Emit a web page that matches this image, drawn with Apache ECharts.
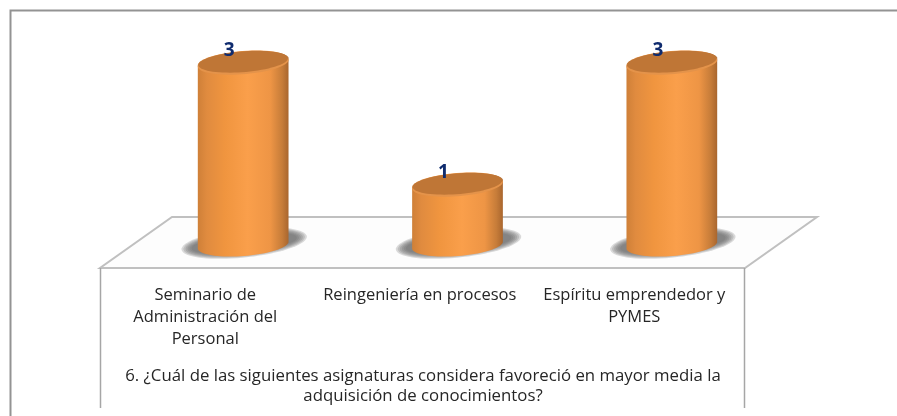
<!DOCTYPE html>
<html><head><meta charset="utf-8">
<style>html,body{margin:0;padding:0;background:#fff}#c{width:897px;height:416px}</style>
<script src="https://cdn.jsdelivr.net/npm/echarts@6/dist/echarts.min.js"></script>
</head><body><div id="c"></div>
<script>
const categories = ['Seminario de\nAdministración del\nPersonal', 'Reingeniería en procesos', 'Espíritu emprendedor y\nPYMES'];
const values = [3, 1, 3];
const titleText = '6. ¿Cuál de las siguientes asignaturas considera favoreció en mayor media la\nadquisición de conocimientos?';
const FONT = '"Open Sans", Lato, sans-serif';

function ellipsePts(cx, cy, rx, ry, a0, a1, n, deg) {
  const th = (deg === undefined ? -4.5 : deg) * Math.PI / 180, pts = [];
  for (let i = 0; i <= n; i++) {
    const t = a0 + (a1 - a0) * i / n;
    const ex = rx * Math.cos(t), ey = ry * Math.sin(t);
    pts.push([cx + ex * Math.cos(th) - ey * Math.sin(th), cy + ex * Math.sin(th) + ey * Math.cos(th)]);
  }
  return pts;
}
const bodyFill = {
  type: 'linear', x: 0, y: 0, x2: 1, y2: 0,
  colorStops: [
    { offset: 0, color: '#cf8038' }, { offset: 0.1, color: '#e08b3f' }, { offset: 0.3, color: '#f0953f' },
    { offset: 0.55, color: '#fa9f4b' }, { offset: 0.8, color: '#ee9545' }, { offset: 0.93, color: '#c67c39' },
    { offset: 1, color: '#a9662e' }
  ]
};
function softShadow(cx, yb) {
  const layers = [];
  for (let k = 0; k < 6; k++) {
    layers.push({ type: 'polygon', z2: 1,
      shape: { points: ellipsePts(cx + 1, yb - 2, 63 - k * 2, 14.5 - k, 0, 2 * Math.PI, 70, -6) },
      style: { fill: 'rgba(105,105,105,0.24)' } });
  }
  return layers;
}
function renderCylinder(params, api) {
  const top = api.coord([api.value(0), api.value(1)]);
  const base = api.coord([api.value(0), 0]);
  const rx = 45.5, ry = 11;
  const cx = top[0], yt = top[1], yb = base[1];
  const body = ellipsePts(cx, yt, rx, ry, Math.PI, 2 * Math.PI, 30)
    .concat(ellipsePts(cx, yb, rx, ry, 0, Math.PI, 40));
  const rim = ellipsePts(cx, yt + 1.2, rx, ry, 0, 2 * Math.PI, 70);
  const face = ellipsePts(cx, yt - 0.3, rx - 0.6, ry - 0.6, 0, 2 * Math.PI, 70);
  return {
    type: 'group',
    children: softShadow(cx, yb).concat([
      { type: 'polygon', z2: 2, shape: { points: body }, style: { fill: bodyFill } },
      { type: 'polygon', z2: 3, shape: { points: rim }, style: { fill: '#e4934a' } },
      { type: 'polygon', z2: 4, shape: { points: face }, style: { fill: '#bf7636' } },
      { type: 'text', z2: 5,
        style: { x: cx - 14, y: yt - 11, text: String(api.value(1)), fill: '#0f2b6e',
          font: 'bold 19px ' + FONT, align: 'center', verticalAlign: 'middle' } }
    ])
  };
}
const chart = echarts.init(document.getElementById('c'), null, { renderer: 'canvas' });
chart.setOption({
  animation: false,
  backgroundColor: '#fff',
  title: {
    text: titleText, left: 418, top: 361, textAlign: 'center',
    textStyle: { fontFamily: FONT, fontSize: 16.8, fontWeight: 'normal', color: '#262626', lineHeight: 20 }
  },
  grid: [
    { left: 136, width: 643, top: 62, height: 183 },
    { left: 98, width: 643.5, top: 217, height: 51 }
  ],
  xAxis: [
    { type: 'category', gridIndex: 0, data: categories, show: false },
    { type: 'category', gridIndex: 1, data: categories,
      axisLine: { show: false }, axisTick: { show: false },
      axisLabel: { margin: 16, interval: 0, fontFamily: FONT, fontSize: 16.5, color: '#262626', lineHeight: 22, verticalAlign: 'top' } }
  ],
  yAxis: [
    { type: 'value', gridIndex: 0, min: 0, max: 3, show: false },
    { type: 'value', gridIndex: 1, min: 0, max: 3, show: false }
  ],
  graphic: [
    { type: 'polyline', silent: true, shape: { points: [[10.5, 416], [10.5, 10.5], [897, 10.5]] }, style: { fill: null, stroke: '#939393', lineWidth: 2 } },
    { type: 'polygon', silent: true, shape: { points: [[172, 217], [817, 217], [745, 268], [100, 268]] }, style: { fill: '#fdfdfd', stroke: '#c0c0c0', lineWidth: 2 } },
    { type: 'line', silent: true, shape: { x1: 100.5, y1: 268, x2: 100.5, y2: 408 }, style: { stroke: '#a6a6a6', lineWidth: 1.5 } },
    { type: 'line', silent: true, shape: { x1: 744.5, y1: 268, x2: 744.5, y2: 408 }, style: { stroke: '#a6a6a6', lineWidth: 1.5 } }
  ],
  series: [{
    type: 'custom', xAxisIndex: 0, yAxisIndex: 0, clip: false,
    encode: { x: 0, y: 1 },
    data: values.map((v, i) => [i, v]),
    renderItem: renderCylinder
  }]
});
</script></body></html>
